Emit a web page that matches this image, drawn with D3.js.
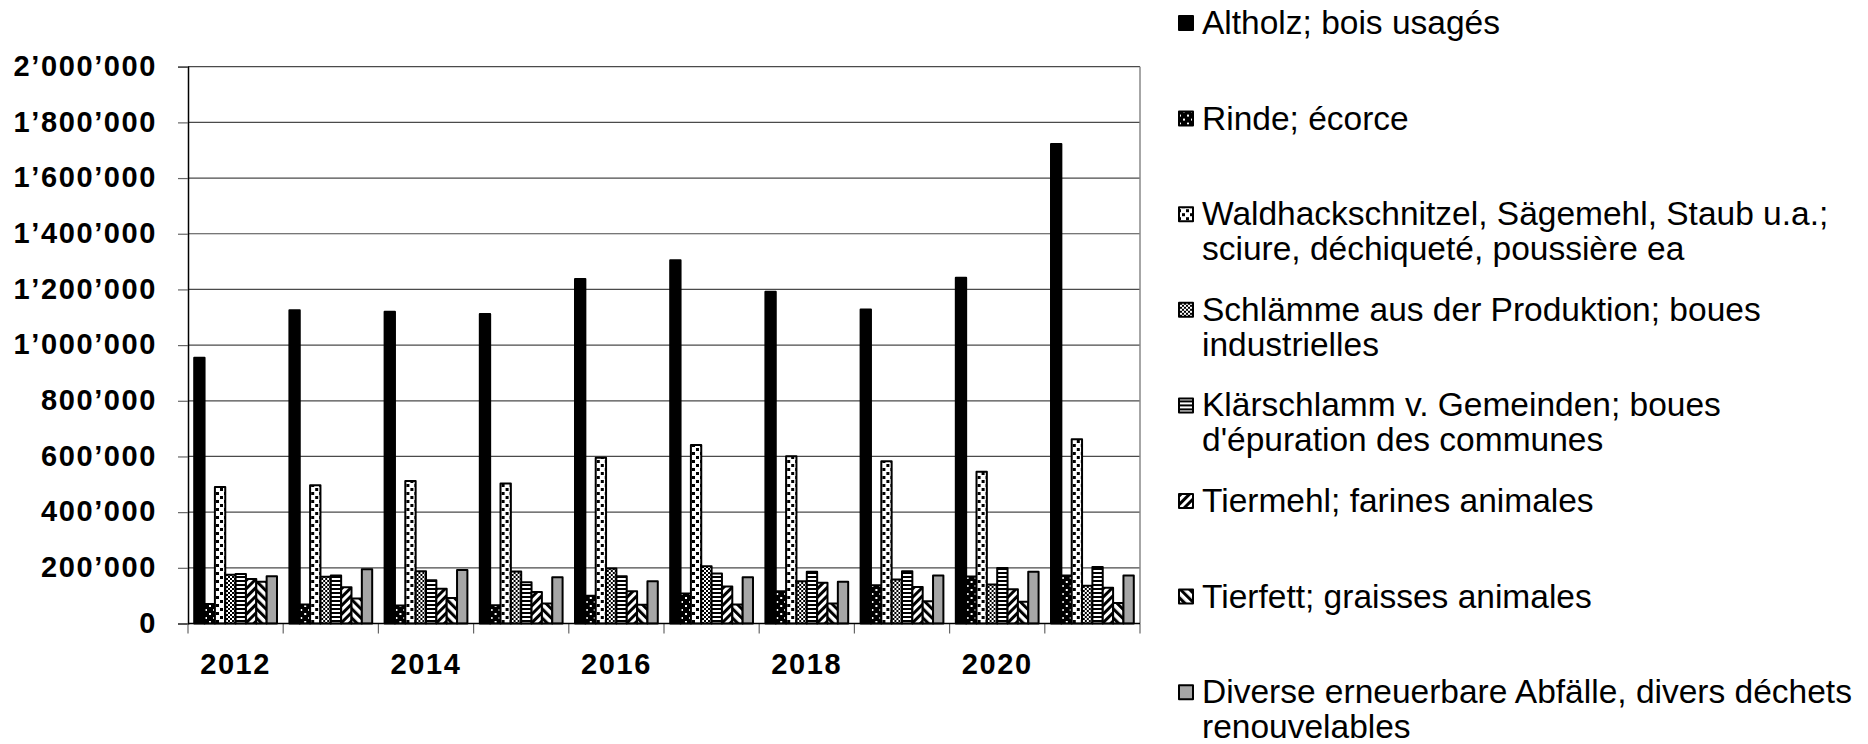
<!DOCTYPE html>
<html>
<head>
<meta charset="utf-8">
<script src="https://cdn.jsdelivr.net/npm/d3@7"></script>
<style>
  body { margin: 0; background: #fff; }
  text { font-family: Arial, "Liberation Sans", sans-serif; }
</style>
</head>
<body>
<svg width="1868" height="744"></svg>
<script>
const years = ['2012', '2013', '2014', '2015', '2016', '2017', '2018', '2019', '2020', '2021'];
const yearLabels = ['2012', '', '2014', '', '2016', '', '2018', '', '2020', ''];
const yTicks = [0, 200000, 400000, 600000, 800000, 1000000, 1200000, 1400000, 1600000, 1800000, 2000000];

const seriesKeys = ['altholz', 'rinde', 'wald', 'schlamm', 'klaer', 'tiermehl', 'tierfett', 'diverse'];
const seriesLabels = [
  ['Altholz; bois usagés'],
  ['Rinde; écorce'],
  ['Waldhackschnitzel, Sägemehl, Staub u.a.;', 'sciure, déchiqueté, poussière ea'],
  ['Schlämme aus der Produktion; boues', 'industrielles'],
  ['Klärschlamm v. Gemeinden; boues', 'd\'épuration des communes'],
  ['Tiermehl; farines animales'],
  ['Tierfett; graisses animales'],
  ['Diverse erneuerbare Abfälle, divers déchets', 'renouvelables']
];

const altholz  = [955000, 1125000, 1120000, 1112000, 1237000, 1305000, 1192000, 1128000, 1242000, 1722000];
const rinde    = [70000, 68000, 65000, 66000, 100000, 108000, 116000, 137000, 169000, 172000];
const wald     = [490000, 497000, 512000, 503000, 595000, 641000, 601000, 583000, 545000, 662000];
const schlamm  = [175000, 168000, 188000, 187000, 198000, 206000, 152000, 158000, 140000, 136000];
const klaer    = [178000, 172000, 155000, 148000, 170000, 180000, 186000, 188000, 199000, 203000];
const tiermehl = [160000, 130000, 125000, 113000, 116000, 133000, 146000, 131000, 123000, 128000];
const tierfett = [150000, 90000, 92000, 72000, 67000, 68000, 72000, 80000, 78000, 74000];
const diverse  = [170000, 195000, 192000, 166000, 152000, 166000, 150000, 172000, 186000, 172000];

const values = [altholz, rinde, wald, schlamm, klaer, tiermehl, tierfett, diverse];

const svg = d3.select('svg');
const margin = { left: 188, right: 1140, top: 66.7, bottom: 623.5 };

const x0 = d3.scaleBand().domain(years).range([margin.left, margin.right]).padding(0);
const x1 = d3.scaleBand().domain(seriesKeys).range([0, x0.bandwidth()]).paddingInner(0).paddingOuter(0.6);
const y = d3.scaleLinear().domain([0, 2000000]).range([margin.bottom, margin.top]);

const fmt = d3.formatLocale({ decimal: '.', thousands: '\u2019', grouping: [3], currency: ['', ''] }).format(',d');

// patterns
const defs = svg.append('defs');

const pRinde = defs.append('pattern').attr('id', 'p-rinde').attr('patternUnits', 'userSpaceOnUse')
  .attr('width', 8).attr('height', 8);
pRinde.append('rect').attr('width', 8).attr('height', 8).style('fill', '#000');
pRinde.append('rect').attr('x', 1).attr('y', 1).attr('width', 2).attr('height', 2).style('fill', '#fff');
pRinde.append('rect').attr('x', 5).attr('y', 5).attr('width', 2).attr('height', 2).style('fill', '#fff');

const pWald = defs.append('pattern').attr('id', 'p-wald').attr('patternUnits', 'userSpaceOnUse')
  .attr('width', 8).attr('height', 8);
pWald.append('rect').attr('width', 8).attr('height', 8).style('fill', '#fff');
pWald.append('rect').attr('x', 0).attr('y', 0).attr('width', 3).attr('height', 3).style('fill', '#000');
pWald.append('rect').attr('x', 4).attr('y', 4).attr('width', 3).attr('height', 3).style('fill', '#000');

const pSchl = defs.append('pattern').attr('id', 'p-schlamm').attr('patternUnits', 'userSpaceOnUse')
  .attr('width', 4).attr('height', 4);
pSchl.append('rect').attr('width', 4).attr('height', 4).style('fill', '#fff');
pSchl.append('rect').attr('width', 2).attr('height', 2).style('fill', '#000');
pSchl.append('rect').attr('x', 2).attr('y', 2).attr('width', 2).attr('height', 2).style('fill', '#000');

const pKlaer = defs.append('pattern').attr('id', 'p-klaer').attr('patternUnits', 'userSpaceOnUse')
  .attr('width', 4).attr('height', 4);
pKlaer.append('rect').attr('width', 4).attr('height', 4).style('fill', '#fff');
pKlaer.append('rect').attr('width', 4).attr('height', 2).style('fill', '#000');

function stripes(id, angle, dark, light) {
  const p = defs.append('pattern').attr('id', id).attr('patternUnits', 'userSpaceOnUse')
    .attr('width', dark + light).attr('height', 10).attr('patternTransform', `rotate(${angle})`);
  p.append('rect').attr('width', dark + light).attr('height', 10).style('fill', '#fff');
  p.append('rect').attr('width', dark).attr('height', 10).style('fill', '#000');
}
stripes('p-tiermehl', 45, 3, 3);
stripes('p-tierfett', -45, 3, 3.5);

const fills = ['#000', 'url(#p-rinde)', 'url(#p-wald)', 'url(#p-schlamm)', 'url(#p-klaer)',
  'url(#p-tiermehl)', 'url(#p-tierfett)', '#a6a6a6'];

// gridlines
svg.append('g')
  .selectAll('line')
  .data(yTicks.slice(1))
  .enter()
  .append('line')
  .attr('x1', margin.left).attr('x2', margin.right)
  .attr('y1', d => y(d)).attr('y2', d => y(d))
  .style('stroke', '#4a4a4a')
  .style('stroke-width', '1.2px');

// right border
svg.append('line')
  .attr('x1', margin.right).attr('x2', margin.right)
  .attr('y1', margin.top).attr('y2', margin.bottom)
  .style('stroke', '#888').style('stroke-width', '1.5px');

// bars
const groups = svg.append('g')
  .selectAll('g.year')
  .data(years)
  .enter()
  .append('g')
  .attr('class', 'year')
  .attr('transform', d => `translate(${x0(d)},0)`);

groups.selectAll('rect')
  .data((yr, i) => seriesKeys.map((k, si) => ({ key: k, si, v: values[si][i] })))
  .enter()
  .append('rect')
  .attr('x', d => x1(d.key))
  .attr('width', x1.bandwidth())
  .attr('y', d => y(d.v))
  .attr('height', d => y(0) - y(d.v))
  .style('fill', d => fills[d.si])
  .style('stroke', '#000')
  .style('stroke-width', '2px')
  .style('stroke-linejoin', 'round');

// y axis
const yAxis = svg.append('g')
  .attr('transform', `translate(${margin.left},0)`)
  .call(d3.axisLeft(y).tickValues(yTicks).tickFormat(fmt).tickSize(10).tickPadding(21));
yAxis.select('.domain').style('stroke', '#000').style('stroke-width', '1.5px');
yAxis.selectAll('.tick line').style('stroke', '#666').style('stroke-width', '1.2px');
yAxis.selectAll('.tick text')
  .style('font-size', '29px').style('font-weight', 'bold').style('letter-spacing', '1.6px')
  .attr('dy', '0.3em').style('fill', '#000');

// x axis
const xAxis = svg.append('g')
  .attr('transform', `translate(0,${margin.bottom})`)
  .call(d3.axisBottom(x0).tickSize(0).tickPadding(29.5).tickFormat((d, i) => yearLabels[i]));
xAxis.select('.domain').remove();
xAxis.selectAll('.tick text')
  .style('font-size', '29px').style('font-weight', 'bold').style('letter-spacing', '1.6px')
  .style('fill', '#000');

svg.append('g')
  .selectAll('line')
  .data(years.concat(['end']))
  .enter()
  .append('line')
  .attr('x1', d => (d === 'end' ? margin.right : x0(d)))
  .attr('x2', d => (d === 'end' ? margin.right : x0(d)))
  .attr('y1', margin.bottom).attr('y2', margin.bottom + 10)
  .style('stroke', '#666').style('stroke-width', '1.2px');

svg.append('line')
  .attr('x1', margin.left).attr('x2', margin.right)
  .attr('y1', margin.bottom).attr('y2', margin.bottom)
  .style('stroke', '#000').style('stroke-width', '1.5px');

// legend
const legend = svg.append('g')
  .selectAll('g.legend')
  .data(seriesLabels)
  .enter()
  .append('g')
  .attr('class', 'legend')
  .attr('transform', (d, i) => `translate(1178,${34 + i * 95.6})`);

legend.append('rect')
  .attr('x', 1).attr('y', -18)
  .attr('width', 14).attr('height', 14)
  .style('fill', (d, i) => fills[i])
  .style('stroke', '#000')
  .style('stroke-width', '2px')
  .style('stroke-linejoin', 'round');

legend.each(function (lines) {
  const t = d3.select(this).append('text')
    .attr('x', 24)
    .style('font-size', '33.5px')
    .style('fill', '#000');
  lines.forEach((line, li) => {
    t.append('tspan').attr('x', 24).attr('dy', li === 0 ? 0 : 35).text(line);
  });
});
</script>
</body>
</html>
